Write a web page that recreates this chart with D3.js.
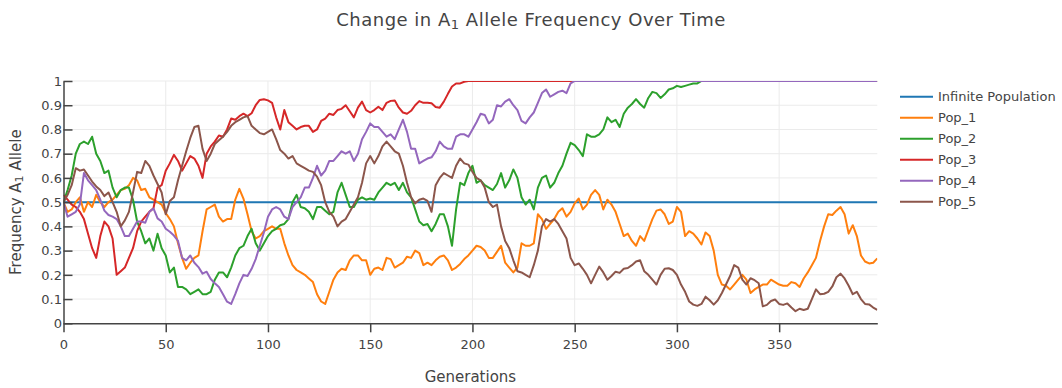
<!DOCTYPE html>
<html>
<head>
<meta charset="utf-8">
<script src="https://cdn.jsdelivr.net/npm/d3@7"></script>
<style>
  html, body { margin: 0; padding: 0; background: #fff; }
  svg { display: block; }
  text { font-family: "DejaVu Sans", Verdana, sans-serif; fill: #444; }
</style>
</head>
<body>
<svg id="chart" width="1062" height="388"></svg>
<script>
// ---------- data ----------
const seriesNames = ["Infinite Population", "Pop_1", "Pop_2", "Pop_3", "Pop_4", "Pop_5"];
const seriesColors = ["#1f77b4", "#ff7f0e", "#2ca02c", "#d62728", "#9467bd", "#8c564b"];

// generations sampled every 2 (0..398)
const generations = d3.range(0, 399, 2);

const infiniteGenerations = [0, 398];
const infiniteFreq = [0.5, 0.5];

const pop1 = [
  0.50, 0.46, 0.47, 0.50, 0.52, 0.46, 0.50, 0.48, 0.53, 0.50,
  0.48, 0.50, 0.51, 0.53, 0.55, 0.555, 0.57, 0.60, 0.59, 0.55,
  0.555, 0.52, 0.51, 0.50, 0.49, 0.455, 0.43, 0.40, 0.33, 0.27,
  0.225, 0.25, 0.27, 0.28, 0.38, 0.47, 0.48, 0.49, 0.44, 0.42,
  0.43, 0.43, 0.51, 0.555, 0.515, 0.45, 0.38, 0.35, 0.36, 0.38,
  0.39, 0.40, 0.39, 0.39, 0.33, 0.28, 0.24, 0.22, 0.21, 0.20,
  0.185, 0.17, 0.12, 0.09, 0.08, 0.13, 0.18, 0.21, 0.225, 0.22,
  0.26, 0.28, 0.28, 0.26, 0.26, 0.20, 0.225, 0.23, 0.22, 0.27,
  0.265, 0.23, 0.24, 0.25, 0.275, 0.27, 0.30, 0.29, 0.24, 0.25,
  0.24, 0.26, 0.275, 0.28, 0.26, 0.22, 0.23, 0.245, 0.265, 0.28,
  0.30, 0.32, 0.315, 0.30, 0.27, 0.27, 0.295, 0.32, 0.25, 0.23,
  0.21, 0.23, 0.33, 0.32, 0.32, 0.33, 0.45, 0.43, 0.39, 0.41,
  0.43, 0.46, 0.475, 0.44, 0.46, 0.495, 0.515, 0.47, 0.49, 0.53,
  0.55, 0.53, 0.47, 0.51, 0.49, 0.46, 0.41, 0.36, 0.37, 0.34,
  0.32, 0.36, 0.34, 0.385, 0.43, 0.465, 0.47, 0.45, 0.41, 0.42,
  0.48, 0.46, 0.36, 0.38, 0.37, 0.35, 0.325, 0.375, 0.36, 0.30,
  0.20, 0.16, 0.155, 0.14, 0.16, 0.18, 0.20, 0.18, 0.125, 0.14,
  0.15, 0.16, 0.16, 0.18, 0.17, 0.16, 0.155, 0.155, 0.17, 0.165,
  0.15, 0.185, 0.21, 0.24, 0.27, 0.34, 0.40, 0.45, 0.447, 0.465,
  0.48, 0.45, 0.37, 0.405, 0.36, 0.28, 0.255, 0.247, 0.25, 0.268
];

const pop2 = [
  0.50, 0.55, 0.61, 0.70, 0.74, 0.75, 0.74, 0.77, 0.70, 0.67,
  0.62, 0.63, 0.56, 0.52, 0.55, 0.56, 0.56, 0.51, 0.42, 0.38,
  0.33, 0.35, 0.30, 0.37, 0.31, 0.28, 0.21, 0.23, 0.15, 0.15,
  0.14, 0.12, 0.13, 0.14, 0.12, 0.12, 0.13, 0.18, 0.21, 0.21,
  0.19, 0.23, 0.28, 0.31, 0.32, 0.36, 0.39, 0.33, 0.30, 0.33,
  0.36, 0.38, 0.39, 0.405, 0.41, 0.43, 0.50, 0.53, 0.48, 0.475,
  0.46, 0.43, 0.48, 0.48, 0.465, 0.45, 0.46, 0.54, 0.58, 0.53,
  0.48, 0.48, 0.51, 0.52, 0.51, 0.515, 0.51, 0.54, 0.56, 0.58,
  0.57, 0.58, 0.55, 0.58, 0.54, 0.52, 0.47, 0.42, 0.405, 0.41,
  0.38, 0.41, 0.45, 0.45, 0.40, 0.32, 0.47, 0.58, 0.57, 0.62,
  0.65, 0.58, 0.59, 0.57, 0.56, 0.55, 0.575, 0.62, 0.56, 0.59,
  0.635, 0.60, 0.52, 0.49, 0.51, 0.47, 0.56, 0.60, 0.61, 0.56,
  0.58, 0.62, 0.65, 0.70, 0.745, 0.735, 0.715, 0.69, 0.78, 0.77,
  0.77, 0.78, 0.80, 0.85, 0.83, 0.84, 0.81, 0.865, 0.89, 0.905,
  0.925, 0.905, 0.89, 0.93, 0.955, 0.95, 0.93, 0.945, 0.965, 0.97,
  0.98, 0.975, 0.98, 0.985, 0.99, 0.99, 1, 1, 1, 1,
  1, 1, 1, 1, 1, 1, 1, 1, 1, 1,
  1, 1, 1, 1, 1, 1, 1, 1, 1, 1,
  1, 1, 1, 1, 1, 1, 1, 1, 1, 1,
  1, 1, 1, 1, 1, 1, 1, 1, 1, 1
];

const pop3 = [
  0.53, 0.51, 0.49, 0.48, 0.46, 0.43, 0.37, 0.31, 0.27, 0.36,
  0.42, 0.40, 0.35, 0.20, 0.215, 0.23, 0.27, 0.31, 0.38, 0.42,
  0.44, 0.46, 0.475, 0.56, 0.57, 0.63, 0.66, 0.695, 0.67, 0.63,
  0.66, 0.69, 0.68, 0.65, 0.60, 0.70, 0.73, 0.75, 0.775, 0.77,
  0.80, 0.845, 0.84, 0.855, 0.865, 0.855, 0.867, 0.90, 0.922, 0.925,
  0.92, 0.91, 0.85, 0.80, 0.88, 0.83, 0.815, 0.80, 0.81, 0.815,
  0.815, 0.79, 0.80, 0.835, 0.845, 0.865, 0.86, 0.88, 0.885, 0.90,
  0.875, 0.85, 0.89, 0.915, 0.88, 0.87, 0.88, 0.894, 0.88, 0.91,
  0.918, 0.92, 0.89, 0.87, 0.865, 0.877, 0.90, 0.917, 0.91, 0.91,
  0.908, 0.893, 0.89, 0.915, 0.947, 0.977, 0.99, 0.99, 0.997, 1,
  1, 1, 1, 1, 1, 1, 1, 1, 1, 1,
  1, 1, 1, 1, 1, 1, 1, 1, 1, 1,
  1, 1, 1, 1, 1, 1, 1, 1, 1, 1,
  1, 1, 1, 1, 1, 1, 1, 1, 1, 1,
  1, 1, 1, 1, 1, 1, 1, 1, 1, 1,
  1, 1, 1, 1, 1, 1, 1, 1, 1, 1,
  1, 1, 1, 1, 1, 1, 1, 1, 1, 1,
  1, 1, 1, 1, 1, 1, 1, 1, 1, 1,
  1, 1, 1, 1, 1, 1, 1, 1, 1, 1,
  1, 1, 1, 1, 1, 1, 1, 1, 1, 1
];

const pop4 = [
  0.50, 0.44, 0.45, 0.46, 0.49, 0.62, 0.59, 0.57, 0.55, 0.51,
  0.465, 0.447, 0.44, 0.43, 0.40, 0.36, 0.36, 0.39, 0.42, 0.42,
  0.415, 0.46, 0.474, 0.433, 0.42, 0.39, 0.378, 0.362, 0.34, 0.27,
  0.26, 0.28, 0.25, 0.232, 0.205, 0.213, 0.183, 0.165, 0.15, 0.12,
  0.089, 0.08, 0.12, 0.165, 0.20, 0.195, 0.225, 0.265, 0.32, 0.375,
  0.44, 0.47, 0.48, 0.47, 0.44, 0.43, 0.48, 0.50, 0.52, 0.56,
  0.56, 0.60, 0.65, 0.61, 0.63, 0.67, 0.67, 0.69, 0.71, 0.70,
  0.71, 0.67, 0.70, 0.76, 0.79, 0.825, 0.81, 0.81, 0.79, 0.77,
  0.78, 0.76, 0.80, 0.84, 0.79, 0.72, 0.72, 0.66, 0.67, 0.68,
  0.685, 0.71, 0.75, 0.73, 0.72, 0.72, 0.77, 0.78, 0.78, 0.77,
  0.80, 0.83, 0.865, 0.86, 0.825, 0.84, 0.90, 0.895, 0.915, 0.925,
  0.90, 0.88, 0.835, 0.825, 0.85, 0.87, 0.91, 0.95, 0.965, 0.935,
  0.945, 0.955, 0.96, 0.95, 0.99, 1, 1, 1, 1, 1,
  1, 1, 1, 1, 1, 1, 1, 1, 1, 1,
  1, 1, 1, 1, 1, 1, 1, 1, 1, 1,
  1, 1, 1, 1, 1, 1, 1, 1, 1, 1,
  1, 1, 1, 1, 1, 1, 1, 1, 1, 1,
  1, 1, 1, 1, 1, 1, 1, 1, 1, 1,
  1, 1, 1, 1, 1, 1, 1, 1, 1, 1,
  1, 1, 1, 1, 1, 1, 1, 1, 1, 1
];

const pop5 = [
  0.50, 0.53, 0.57, 0.64, 0.63, 0.635, 0.61, 0.585, 0.565, 0.55,
  0.525, 0.54, 0.50, 0.46, 0.40, 0.425, 0.46, 0.54, 0.625, 0.62,
  0.67, 0.65, 0.61, 0.575, 0.54, 0.45, 0.505, 0.52, 0.59, 0.65,
  0.71, 0.765, 0.81, 0.815, 0.72, 0.67, 0.70, 0.74, 0.755, 0.77,
  0.79, 0.815, 0.83, 0.84, 0.85, 0.855, 0.815, 0.80, 0.785, 0.78,
  0.79, 0.80, 0.76, 0.715, 0.70, 0.68, 0.69, 0.66, 0.65, 0.64,
  0.63, 0.625, 0.605, 0.57, 0.50, 0.46, 0.44, 0.40, 0.42, 0.43,
  0.46, 0.49, 0.52, 0.58, 0.66, 0.69, 0.66, 0.69, 0.73, 0.75,
  0.73, 0.71, 0.70, 0.65, 0.58, 0.52, 0.495, 0.51, 0.515, 0.505,
  0.46, 0.57, 0.60, 0.62, 0.61, 0.60, 0.65, 0.68, 0.66, 0.655,
  0.625, 0.60, 0.59, 0.56, 0.50, 0.48, 0.49, 0.40, 0.34, 0.31,
  0.26, 0.215, 0.21, 0.20, 0.19, 0.24, 0.30, 0.40, 0.43, 0.42,
  0.43, 0.41, 0.38, 0.35, 0.27, 0.24, 0.247, 0.225, 0.20, 0.165,
  0.20, 0.234, 0.21, 0.18, 0.195, 0.213, 0.208, 0.225, 0.228, 0.24,
  0.255, 0.26, 0.215, 0.20, 0.18, 0.16, 0.20, 0.225, 0.227, 0.22,
  0.20, 0.16, 0.13, 0.09, 0.077, 0.072, 0.08, 0.11, 0.095, 0.077,
  0.095, 0.125, 0.16, 0.195, 0.24, 0.23, 0.18, 0.16, 0.186, 0.178,
  0.165, 0.07, 0.076, 0.092, 0.098, 0.08, 0.076, 0.082, 0.065, 0.05,
  0.06, 0.055, 0.06, 0.10, 0.14, 0.12, 0.122, 0.13, 0.152, 0.19,
  0.205, 0.185, 0.155, 0.12, 0.13, 0.10, 0.08, 0.078, 0.065, 0.055
];

const xTickValues = [0, 50, 100, 150, 200, 250, 300, 350];
const yTickValues = [0, 0.1, 0.2, 0.3, 0.4, 0.5, 0.6, 0.7, 0.8, 0.9, 1];
const yTickLabels = ["0", "0.1", "0.2", "0.3", "0.4", "0.5", "0.6", "0.7", "0.8", "0.9", "1"];

// ---------- layout ----------
const svg = d3.select("#chart");
const W = 1062, H = 388;
const plot = { left: 63.5, right: 877.3, top: 81, bottom: 323.3 };

svg.append("rect").attr("width", W).attr("height", H).attr("fill", "#fff");

const x = d3.scaleLinear().domain([0, 398]).range([plot.left, plot.right]);
const y = d3.scaleLinear().domain([0, 1]).range([plot.bottom, plot.top]);

// grid
const grid = svg.append("g").attr("class", "grid");
grid.selectAll("line.vx").data(xTickValues.filter(d => d > 0)).join("line")
  .attr("x1", d => x(d)).attr("x2", d => x(d))
  .attr("y1", plot.top).attr("y2", plot.bottom)
  .attr("stroke", "#ebebeb").attr("stroke-width", 1);
grid.selectAll("line.hy").data(yTickValues.filter(d => d > 0)).join("line")
  .attr("x1", plot.left).attr("x2", plot.right)
  .attr("y1", d => y(d)).attr("y2", d => y(d))
  .attr("stroke", "#ebebeb").attr("stroke-width", 1);

// clip
svg.append("defs").append("clipPath").attr("id", "clip")
  .append("rect").attr("x", plot.left).attr("y", plot.top)
  .attr("width", plot.right - plot.left).attr("height", plot.bottom - plot.top);

const line = d3.line().x(d => x(d[0])).y(d => y(d[1]));
const zip = (gs, vs) => gs.map((g, i) => [g, vs[i]]).filter(d => d[1] !== undefined);

const traces = [
  zip(infiniteGenerations, infiniteFreq),
  zip(generations, pop1),
  zip(generations, pop2),
  zip(generations, pop3),
  zip(generations, pop4),
  zip(generations, pop5)
];

const lines = svg.append("g").attr("clip-path", "url(#clip)");
traces.forEach((t, i) => {
  lines.append("path").datum(t)
    .attr("d", line)
    .attr("fill", "none")
    .attr("stroke", seriesColors[i])
    .attr("stroke-width", 2)
    .attr("stroke-linejoin", "round");
});

// axes
const xAxis = d3.axisBottom(x).tickValues(xTickValues).tickSizeInner(9).tickSizeOuter(0).tickPadding(7);
const yAxis = d3.axisLeft(y).tickValues(yTickValues)
  .tickFormat((d, i) => yTickLabels[i]).tickSizeInner(-9).tickSizeOuter(0).tickPadding(1.5);

const gx = svg.append("g").attr("transform", `translate(0,${plot.bottom})`).call(xAxis);
const gy = svg.append("g").attr("transform", `translate(${plot.left},0)`).call(yAxis);
[gx, gy].forEach(g => {
  g.select(".domain").attr("stroke", "#444").attr("stroke-width", 1.5);
  g.selectAll(".tick line").attr("stroke", "#444").attr("stroke-width", 1.5);
  g.selectAll(".tick text").attr("fill", "#444")
    .style("font-family", '"DejaVu Sans", Verdana, sans-serif').style("font-size", "13px");
});

// title
const title = svg.append("text").attr("x", W / 2).attr("y", 26)
  .attr("text-anchor", "middle").style("font-size", "18px").style("letter-spacing", "0.5px");
title.append("tspan").text("Change in A");
title.append("tspan").attr("dy", 2.6).style("font-size", "13px").text("1");
title.append("tspan").attr("dy", -2.6).text(" Allele Frequency Over Time");

// axis titles
svg.append("text").attr("x", (plot.left + plot.right) / 2).attr("y", 381.5)
  .attr("text-anchor", "middle").style("font-size", "15px").text("Generations");

const yt = svg.append("text")
  .attr("transform", `translate(20.7,${(plot.top + plot.bottom) / 2}) rotate(-90)`)
  .attr("text-anchor", "middle").style("font-size", "15px");
yt.append("tspan").text("Frequency A");
yt.append("tspan").attr("dy", 2.4).style("font-size", "11px").text("1");
yt.append("tspan").attr("dy", -2.4).text(" Allele");

// legend
const legend = svg.append("g");
seriesNames.forEach((name, i) => {
  const cy = 96.7 + i * 21;
  legend.append("line").attr("x1", 900).attr("x2", 933)
    .attr("y1", cy).attr("y2", cy)
    .attr("stroke", seriesColors[i]).attr("stroke-width", 2);
  legend.append("text").attr("x", 938).attr("y", cy).attr("dy", "0.36em")
    .style("font-size", "13px").text(name);
});
</script>
</body>
</html>
